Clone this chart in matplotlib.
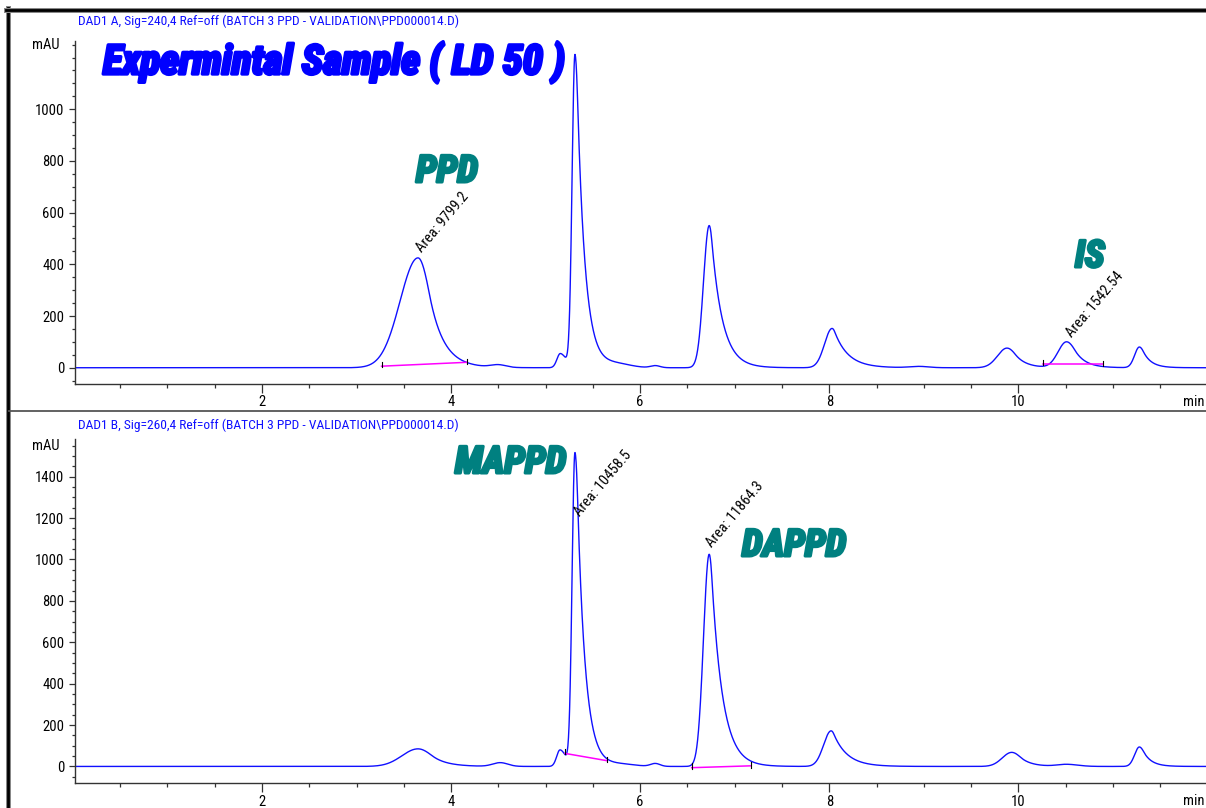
import numpy as np
import matplotlib.pyplot as plt
from matplotlib.ticker import MultipleLocator
from matplotlib.lines import Line2D
from matplotlib import patheffects as pe

W, H = 1206, 808
plt.rcParams['font.family'] = ['Roboto Condensed', 'Liberation Sans', 'DejaVu Sans']

#-------------------------------------------------------------
# Peak tables
# (retention time [min], height [mAU], left/right sigma [min], tail factor)
#-------------------------------------------------------------
rt_A = [3.65, 4.50, 5.155, 5.31, 5.75, 6.16, 6.73, 8.03, 8.95, 9.88, 10.51, 11.28]
h_A = [425, 10, 55, 1210, 14, 8, 550, 152, 5, 76, 100, 80]
sl_A = [0.19, 0.08, 0.035, 0.03, 0.15, 0.05, 0.06, 0.08, 0.10, 0.10, 0.09, 0.05]
sr_A = [0.135, 0.08, 0.06, 0.05, 0.15, 0.05, 0.058, 0.065, 0.10, 0.10, 0.10, 0.06]
k_A = [0.9, 3, 3, 0.6, 3, 3, 0.5, 0.45, 3, 0.9, 0.9, 0.7]

rt_B = [3.65, 4.52, 5.152, 5.31, 5.80, 6.16, 6.73, 8.02, 9.93, 10.51, 11.28]
h_B = [85, 18, 80, 1514, 10, 14, 1025, 172, 68, 10, 94]
sl_B = [0.17, 0.08, 0.035, 0.03, 0.15, 0.05, 0.06, 0.08, 0.10, 0.10, 0.05]
sr_B = [0.15, 0.08, 0.06, 0.05, 0.15, 0.05, 0.058, 0.065, 0.10, 0.12, 0.06]
k_B = [1.0, 3, 3, 0.6, 3, 3, 0.5, 0.45, 0.9, 3, 0.7]

# integration baselines: start time, end time, start level, end level
int_A_t0 = [3.265, 10.258]
int_A_t1 = [4.165, 10.893]
int_A_y0 = [6, 13]
int_A_y1 = [21, 13]
int_B_t0 = [5.205, 6.545]
int_B_t1 = [5.646, 7.173]
int_B_y0 = [63, -6]
int_B_y1 = [28, 3]

area_A_text = ['Area: 9799.2', 'Area: 1542.54']
area_A_x = [3.69, 10.565]
area_A_y = [445, 114]
area_B_text = ['Area: 10458.5', 'Area: 11864.3']
area_B_x = [5.36, 6.765]
area_B_y = [1203, 1054]

header_A = 'DAD1 A, Sig=240,4 Ref=off (BATCH 3 PPD - VALIDATION\\PPD000014.D)'
header_B = 'DAD1 B, Sig=260,4 Ref=off (BATCH 3 PPD - VALIDATION\\PPD000014.D)'


def fx(px):
    return px / W


def fy(py):
    return 1 - py / H


def peak(t, t0, h, sl, sr, k):
    x = t - t0
    y = np.exp(-0.5 * (x / sl) ** 2)
    right = x >= 0
    y[right] = np.exp(-0.5 * (x[right] / sr) ** 2)
    far = x > k * sr
    y[far] = np.exp(0.5 * k ** 2 - k * x[far] / sr)
    return h * y


def trace(t, rts, hs, sls, srs, ks):
    out = np.zeros_like(t)
    for p in zip(rts, hs, sls, srs, ks):
        out += peak(t, *p)
    return out


t = np.linspace(0.02, 12.0, 4000)
sig_A = trace(t, rt_A, h_A, sl_A, sr_A, k_A)
sig_B = trace(t, rt_B, h_B, sl_B, sr_B, k_B)

fig = plt.figure(figsize=(W / 100, H / 100), dpi=100)
axA = fig.add_axes([fx(75), fy(383.5), 1 - fx(75), (383.5 - 41) / H])
axB = fig.add_axes([fx(75), fy(783), 1 - fx(75), (783 - 439) / H])

blue = '#1010ff'
teal = '#008080'


def style_axis(ax, ymin, ymax, top_tick):
    ax.set_xlim(0.022, 11.985)
    ax.set_ylim(ymin, ymax)
    for s in ['top', 'right']:
        ax.spines[s].set_visible(False)
    for s in ['left', 'bottom']:
        ax.spines[s].set_color('#333333')
        ax.spines[s].set_linewidth(1.0)
    ax.xaxis.set_minor_locator(MultipleLocator(0.5))
    ax.yaxis.set_minor_locator(MultipleLocator(50))
    ax.set_xticks([2, 4, 6, 8, 10])
    ax.set_yticks(np.arange(0, top_tick + 1, 200))
    ax.tick_params(axis='x', which='major', length=6.2, width=0.9, pad=2.2,
                   labelsize=10.5, color='#333333')
    ax.tick_params(axis='x', which='minor', length=3.1, width=0.9, color='#333333')
    ax.tick_params(axis='y', which='major', length=4.2, width=0.9, pad=3.5,
                   labelsize=10.5, color='#333333')
    ax.tick_params(axis='y', which='minor', length=2.4, width=0.9, color='#333333')
    ax.patch.set_alpha(0)


style_axis(axA, -61, 1264, 1000)
style_axis(axB, -80, 1582, 1400)

axA.plot(t, sig_A, color=blue, lw=1.0)
axB.plot(t, sig_B, color=blue, lw=1.0)


def integration(ax, t0s, t1s, y0s, y1s, tick):
    for a, b, ya, yb in zip(t0s, t1s, y0s, y1s):
        ax.plot([a, b], [ya, yb], color='#ff00ff', lw=1.1)
        ax.plot([a, a], [ya - 0.2 * tick, ya + tick], color='black', lw=0.8)
        ax.plot([b, b], [yb - 0.4 * tick, yb + 0.8 * tick], color='black', lw=0.8)


integration(axA, int_A_t0, int_A_t1, int_A_y0, int_A_y1, 18)
integration(axB, int_B_t0, int_B_t1, int_B_y0, int_B_y1, 22)

for txt, x, y in zip(area_A_text, area_A_x, area_A_y):
    axA.text(x, y, txt, rotation=50, rotation_mode='anchor', ha='left',
             va='baseline', fontsize=10.5, color='black')
for txt, x, y in zip(area_B_text, area_B_x, area_B_y):
    axB.text(x, y, txt, rotation=50, rotation_mode='anchor', ha='left',
             va='baseline', fontsize=10.5, color='black')

# mAU unit at the top tick, "min" at the end of the time axis
axA.annotate('mAU', xy=(0, 1250), xycoords=('axes fraction', 'data'),
             xytext=(-11, 0), textcoords='offset points', ha='right',
             va='center', fontsize=10.5)
axB.annotate('mAU', xy=(0, 1550), xycoords=('axes fraction', 'data'),
             xytext=(-11, 0), textcoords='offset points', ha='right',
             va='center', fontsize=10.5)
fig.text(fx(1205), fy(406), 'min', fontsize=10.5, ha='right', va='baseline')
fig.text(fx(1205), fy(805), 'min', fontsize=10.5, ha='right', va='baseline')

# signal headers
fig.text(fx(78), fy(25), header_A, fontsize=9.7, color=blue, ha='left', va='baseline')
fig.text(fx(78), fy(429), header_B, fontsize=9.7, color=blue, ha='left', va='baseline')

# big hand-written labels
heavy = dict(fontweight='bold', fontstyle='italic', ha='left', va='baseline')
fig.text(fx(103), fy(74), 'Expermintal Sample ( LD 50 )', fontsize=29.5, color='#0000ff',
         path_effects=[pe.withStroke(linewidth=2.4, foreground='#0000ff')], **heavy)
for txt, px, py in [('PPD', 416, 182), ('IS', 1075, 267),
                    ('MAPPD', 455, 473), ('DAPPD', 742, 556)]:
    fig.text(fx(px), fy(py), txt, fontsize=27, color=teal,
             path_effects=[pe.withStroke(linewidth=2.2, foreground=teal)], **heavy)

# report frame
fig.add_artist(Line2D([fx(7.5), fx(7.5)], [fy(8), 0], color='#888888', lw=3.6))
fig.add_artist(Line2D([fx(7.5), fx(7.5)], [fy(8), 0], color='black', lw=2.0))
fig.add_artist(Line2D([fx(6), 1], [fy(9.5), fy(9.5)], color='#888888', lw=3.6))
fig.add_artist(Line2D([fx(6), 1], [fy(9.5), fy(9.5)], color='black', lw=2.0))
fig.add_artist(Line2D([fx(9), 1], [fy(411.5), fy(411.5)], color='#555555', lw=1.3))

fig.savefig('out.png', dpi=100)
